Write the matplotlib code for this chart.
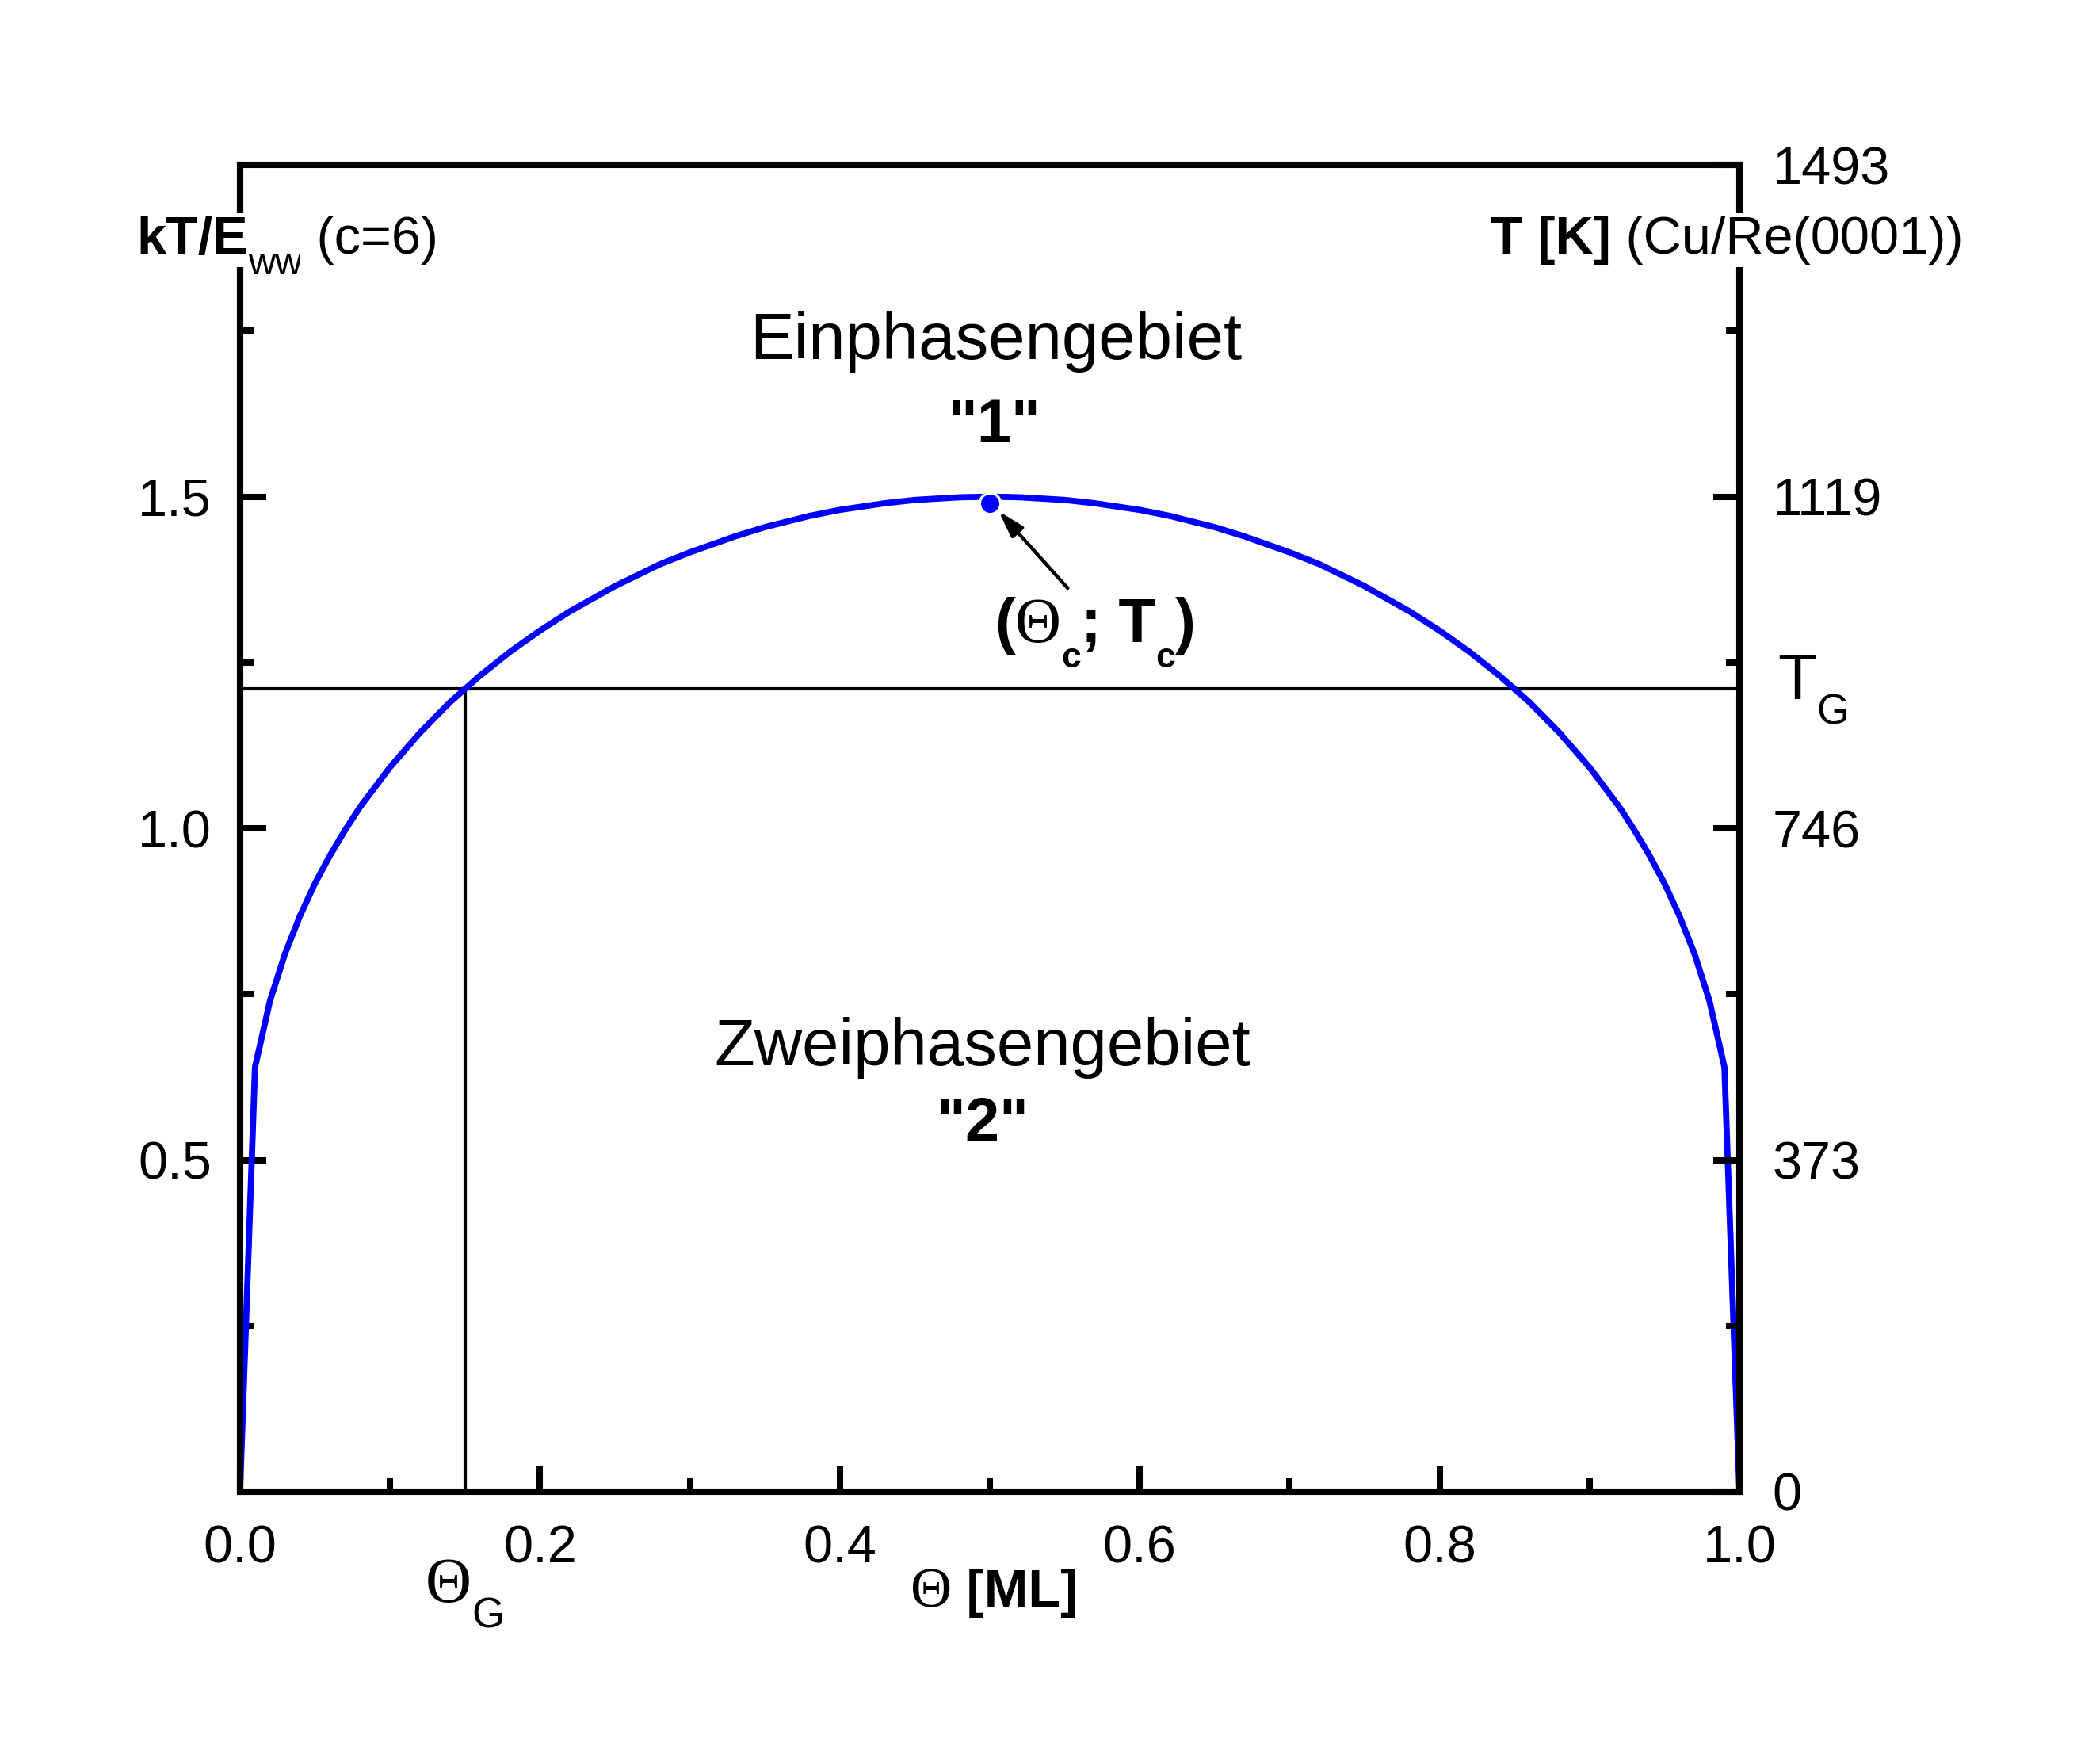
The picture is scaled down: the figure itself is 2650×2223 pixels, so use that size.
import matplotlib
matplotlib.use('Agg')
from matplotlib import pyplot as plt
from matplotlib import transforms as mtransforms

plt.rcParams['font.family'] = ['Liberation Sans', 'DejaVu Sans']

# phase boundary (coverage in ML, kT/E_ww)
theta = [0.0, 0.01, 0.02, 0.03, 0.04, 0.05, 0.06, 0.07, 0.08, 0.10, 0.12, 0.14, 0.16,
         0.18, 0.20, 0.22, 0.25, 0.28, 0.30, 0.33, 0.35, 0.38, 0.40, 0.43, 0.45, 0.48,
         0.50,
         0.52, 0.55, 0.57, 0.60, 0.62, 0.65, 0.67, 0.70, 0.72, 0.75, 0.78, 0.80, 0.82,
         0.84, 0.86, 0.88, 0.90, 0.92, 0.93, 0.94, 0.95, 0.96, 0.97, 0.98, 0.99, 1.0]
kT = [0.0, 0.640, 0.740, 0.811, 0.868, 0.917, 0.959, 0.997, 1.032, 1.092, 1.144, 1.190,
      1.230, 1.266, 1.298, 1.327, 1.365, 1.398, 1.416, 1.440, 1.454, 1.471, 1.480, 1.490,
      1.495, 1.499,
      1.500,
      1.499, 1.495, 1.490, 1.480, 1.471, 1.454, 1.440, 1.416, 1.398, 1.365, 1.327, 1.298,
      1.266, 1.230, 1.190, 1.144, 1.092, 1.032, 0.997, 0.959, 0.917, 0.868, 0.811, 0.740,
      0.640, 0.0]

crit_theta, crit_kT = 0.5, 1.49
theta_G, kT_G = 0.15, 1.21

left_ticks = [0.5, 1.0, 1.5]
left_minor = [0.25, 0.75, 1.25, 1.75]
right_ticks = [0.0, 0.5, 1.0, 1.5, 2.0]
right_labels = ['0', '373', '746', '1119', '1493']
x_ticks = [0.0, 0.2, 0.4, 0.6, 0.8, 1.0]
x_minor = [0.1, 0.3, 0.5, 0.7, 0.9]

W, H, DPI = 2650, 2223, 200
fig = plt.figure(figsize=(W / DPI, H / DPI), dpi=DPI)
ax = fig.add_axes([0.1143, 0.1534, 0.7140, 0.7530])
ax2 = ax.twinx()

ax.plot(theta, kT, color='#0000ff', lw=2.8, zorder=3)
ax.plot([crit_theta], [crit_kT], 'o', color='#0000ff', ms=9.5, mec='white', mew=1.2, zorder=4)
ax.plot([0, 1], [kT_G, kT_G], color='black', lw=1.5)
ax.plot([theta_G, theta_G], [0, kT_G], color='black', lw=1.5)

ax.annotate('', xy=(0.506, 1.478), xytext=(0.552, 1.362),
            arrowprops=dict(arrowstyle='-|>,head_length=1.0,head_width=0.3',
                            color='black', lw=1.6, shrinkA=0, shrinkB=0))

ax.text(0.504, 1.707, 'Einphasengebiet', fontsize=30, ha='center', va='baseline')
ax.text(0.503, 1.582, '"1"', fontsize=28, fontweight='bold', ha='center', va='baseline')
ax.text(0.495, 0.643, 'Zweiphasengebiet', fontsize=30, ha='center', va='baseline')
ax.text(0.495, 0.528, '"2"', fontsize=28, fontweight='bold', ha='center', va='baseline')

for a in (ax, ax2):
    a.set_xlim(0, 1)
    a.set_ylim(0, 2)
    for s in a.spines.values():
        s.set_linewidth(2.9)

ax.set_xticks(x_ticks)
ax.set_xticklabels(['%.1f' % v for v in x_ticks])
ax.set_xticks(x_minor, minor=True)
ax.set_yticks(left_ticks)
ax.set_yticklabels(['%.1f' % v for v in left_ticks])
ax.set_yticks(left_minor, minor=True)
ax.tick_params(which='both', direction='in', width=2.9, labelsize=24, top=False, right=False)
ax.tick_params(which='major', length=12)
ax.tick_params(which='minor', length=6)
ax.tick_params(axis='x', pad=15)
ax.tick_params(axis='y', pad=13)

ax2.set_yticks(right_ticks)
ax2.set_yticklabels(right_labels)
ax2.set_yticks(left_minor, minor=True)
ax2.tick_params(which='both', direction='in', width=2.9, labelsize=24, pad=15)
ax2.tick_params(which='major', length=12)
ax2.tick_params(which='minor', length=6)

renderer = fig.canvas.get_renderer()
ident = mtransforms.IdentityTransform()
SERIF = ['Liberation Serif', 'DejaVu Serif']


def rich_text(x, y, parts, ha='left', box=False):
    # x, y in picture pixels from top-left, y is the baseline
    items = []
    total = 0
    for s, size, weight, family, drop in parts:
        t = fig.text(0, 0, s, fontsize=size, fontweight=weight, family=family,
                     transform=ident, va='baseline', ha='left', zorder=5)
        if box:
            t.set_bbox(dict(facecolor='white', edgecolor='none', pad=1))
        w = t.get_window_extent(renderer).width
        items.append((t, w, drop))
        total += w
    x0 = x - total / 2 if ha == 'center' else x
    for t, w, drop in items:
        t.set_position((x0, H - y - drop))
        x0 += w


rich_text(172, 320, [('kT/E', 24, 'bold', None, 0),
                     ('ww', 17, 'normal', None, 26),
                     (' (c=6)', 24, 'normal', None, 0)], box=True)
rich_text(1881, 320, [('T [K]', 24, 'bold', None, 0),
                      (' (Cu/Re(0001))', 24, 'normal', None, 0)], box=True)
rich_text(1255, 2027, [('\u0398', 26, 'normal', SERIF, 0),
                       (' [ML]', 24, 'bold', None, 0)], ha='center')
rich_text(537, 2021, [('\u0398', 29, 'normal', SERIF, 0),
                      ('G', 19, 'normal', None, 32)])
rich_text(2243, 882, [('T', 29, 'normal', None, 0),
                      ('G', 19, 'normal', None, 32)])
rich_text(1382, 810, [('(', 28, 'bold', None, 0),
                      ('\u0398', 29, 'normal', SERIF, 0),
                      ('c', 16, 'bold', None, 32),
                      ('; T', 28, 'bold', None, 0),
                      ('c', 16, 'bold', None, 32),
                      (')', 28, 'bold', None, 0)], ha='center')

fig.savefig('out.png', dpi=DPI, facecolor='white')
